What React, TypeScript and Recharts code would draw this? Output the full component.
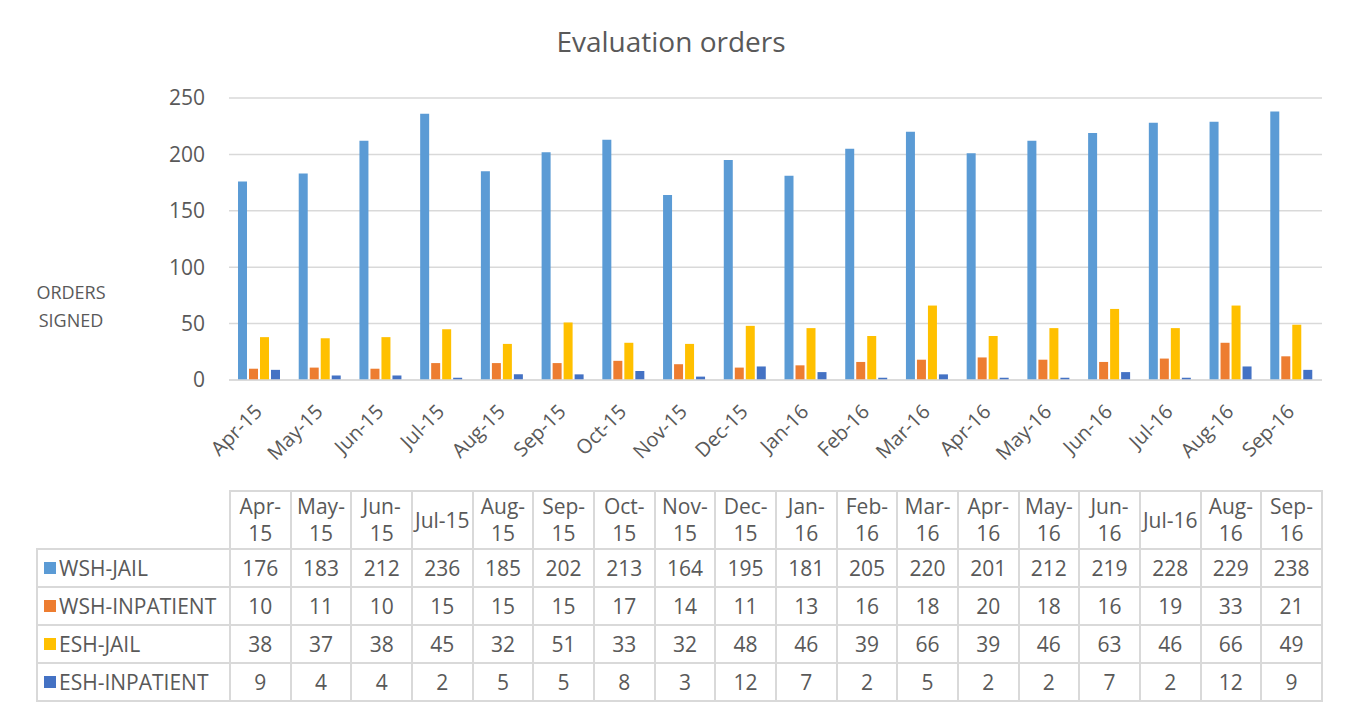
import React from 'react'
import { BarChart, Bar, XAxis, YAxis, CartesianGrid } from 'recharts'

const months = ['Apr-15', 'May-15', 'Jun-15', 'Jul-15', 'Aug-15', 'Sep-15', 'Oct-15', 'Nov-15', 'Dec-15',
    'Jan-16', 'Feb-16', 'Mar-16', 'Apr-16', 'May-16', 'Jun-16', 'Jul-16', 'Aug-16', 'Sep-16']
const wshJail = [176, 183, 212, 236, 185, 202, 213, 164, 195, 181, 205, 220, 201, 212, 219, 228, 229, 238]
const wshInpatient = [10, 11, 10, 15, 15, 15, 17, 14, 11, 13, 16, 18, 20, 18, 16, 19, 33, 21]
const eshJail = [38, 37, 38, 45, 32, 51, 33, 32, 48, 46, 39, 66, 39, 46, 63, 46, 66, 49]
const eshInpatient = [9, 4, 4, 2, 5, 5, 8, 3, 12, 7, 2, 5, 2, 2, 7, 2, 12, 9]
const yTicks = [0, 50, 100, 150, 200, 250]

const series = [
    { key: 'wshJail', name: 'WSH-JAIL', color: '#5B9BD5', values: wshJail },
    { key: 'wshInpatient', name: 'WSH-INPATIENT', color: '#ED7D31', values: wshInpatient },
    { key: 'eshJail', name: 'ESH-JAIL', color: '#FFC000', values: eshJail },
    { key: 'eshInpatient', name: 'ESH-INPATIENT', color: '#4472C4', values: eshInpatient },
]

const chartData = months.map((month, i) => ({
    month,
    wshJail: wshJail[i],
    wshInpatient: wshInpatient[i],
    eshJail: eshJail[i],
    eshInpatient: eshInpatient[i],
}))

const FONT = '"Open Sans", "Noto Sans", sans-serif'
const TEXT = '#595959'
const GRID = '#D9D9D9'

const MonthTick = ({ x, y, payload }: any) => (
    <text
        x={x + 4}
        y={y + 33}
        transform={`rotate(-45, ${x + 4}, ${y + 33})`}
        textAnchor="end"
        fill={TEXT}
        fontSize={20}
        fontFamily={FONT}
    >
        {payload.value}
    </text>
)

const cellBorder = `2px solid ${GRID}`

export default function App() {
    return (
        <div style={{
            position: 'relative', width: 1341, height: 712, marginLeft: -3, marginTop: -4,
            border: `2px solid ${GRID}`, borderBottom: 'none', background: '#fff', fontFamily: FONT, color: TEXT,
        }}>
            <div style={{ position: 'absolute', left: 0, width: 1328, top: 16, textAlign: 'center', fontSize: 28 }}>
                Evaluation orders
            </div>
            <div style={{ position: 'absolute', left: 14, width: 100, top: 272, textAlign: 'center', fontSize: 18, lineHeight: '28px' }}>
                ORDERS<br />SIGNED
            </div>

            <div style={{ position: 'absolute', left: 0, top: 0 }}>
                <BarChart
                    width={1340}
                    height={480}
                    data={chartData}
                    margin={{ top: 92, right: 25, left: 162, bottom: 0 }}
                    barSize={9}
                    barGap={2}
                >
                    <CartesianGrid vertical={false} stroke={GRID} strokeWidth={1.5} />
                    <XAxis
                        dataKey="month"
                        height={106}
                        interval={0}
                        tickLine={false}
                        tickSize={0}
                        tickMargin={0}
                        axisLine={{ stroke: GRID, strokeWidth: 1.5 }}
                        tick={<MonthTick />}
                    />
                    <YAxis
                        width={60}
                        domain={[0, 250]}
                        ticks={yTicks}
                        axisLine={false}
                        tickLine={false}
                        tickSize={0}
                        tickMargin={24}
                        tick={{ fill: TEXT, fontSize: 21, fontFamily: FONT }}
                    />
                    {series.map(s => (
                        <Bar key={s.key} dataKey={s.key} name={s.name} fill={s.color} isAnimationActive={false} />
                    ))}
                </BarChart>
            </div>

            <table style={{
                position: 'absolute', left: 29, top: 484, borderCollapse: 'collapse',
                tableLayout: 'fixed', width: 1286, fontSize: 21, color: TEXT,
            }}>
                <colgroup>
                    <col style={{ width: 193 }} />
                    {months.map(m => <col key={m} style={{ width: 60.67 }} />)}
                </colgroup>
                <thead>
                    <tr style={{ height: 58 }}>
                        <th style={{ border: 'none' }}></th>
                        {months.map(m => (
                            <th key={m} style={{
                                border: cellBorder, fontWeight: 'normal', padding: '0 1px',
                                lineHeight: '27px', fontSize: 21,
                            }}>
                                {m}
                            </th>
                        ))}
                    </tr>
                </thead>
                <tbody>
                    {series.map(s => (
                        <tr key={s.key} style={{ height: 38 }}>
                            <td style={{ border: cellBorder, padding: '0 0 0 6px', whiteSpace: 'nowrap' }}>
                                <span style={{
                                    display: 'inline-block', width: 12, height: 12, background: s.color,
                                    marginRight: 3, verticalAlign: 'middle', position: 'relative', top: -2,
                                }} />
                                {s.name}
                            </td>
                            {s.values.map((v, i) => (
                                <td key={i} style={{ border: cellBorder, textAlign: 'center', padding: 0 }}>{v}</td>
                            ))}
                        </tr>
                    ))}
                </tbody>
            </table>
        </div>
    )
}
